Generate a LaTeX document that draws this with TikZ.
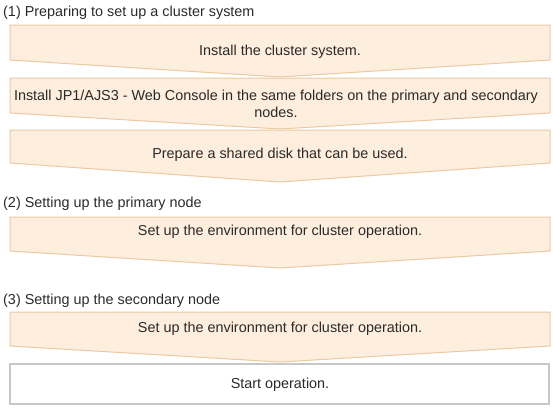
\documentclass[tikz,border=0pt]{standalone}
\usepackage{fontspec}
\setmainfont{Liberation Sans}
\definecolor{boxfill}{HTML}{FEEEDD}
\definecolor{boxline}{HTML}{EBC9A3}
\definecolor{endline}{HTML}{C8C8C8}
\definecolor{txt}{HTML}{2A2A2A}
\begin{document}
\begin{tikzpicture}[x=1pt,y=-1pt,
  every node/.style={text=txt,font=\fontsize{14.4}{17}\selectfont,inner sep=0pt},
  stepshape/.style={fill=boxfill,draw=boxline,line width=1pt,line join=miter},
  endshape/.style={fill=white,draw=endline,line width=1.5pt},
  sectlabel/.style={anchor=west}]
\useasboundingbox (0,0) rectangle (553,408);
% section labels
\node[sectlabel] (l1) at (3,13) {(1) Preparing to set up a cluster system};
\node[sectlabel] (l2) at (3,204) {(2) Setting up the primary node};
\node[sectlabel] (l3) at (3,301) {(3) Setting up the secondary node};
% step shapes
\draw[stepshape] (10,25) -- (550,25) -- (550,60) -- (280,77) -- (10,60) -- cycle;
\draw[stepshape] (10,78) -- (550,78) -- (550,113) -- (280,129) -- (10,113) -- cycle;
\draw[stepshape] (10,130) -- (550,130) -- (550,163) -- (280,182) -- (10,163) -- cycle;
\draw[stepshape] (10,217) -- (550,217) -- (550,251) -- (280,268) -- (10,251) -- cycle;
\draw[stepshape] (10,312) -- (550,312) -- (550,346) -- (280,362) -- (10,346) -- cycle;
\draw[endshape] (10,364) rectangle (549,404);
% texts
\node (s1) at (280,52) {Install the cluster system.};
\node[align=center] (s2) at (276,103.5) {Install JP1/AJS3 - Web Console in the same folders on the primary and secondary\\nodes.};
\node (s3) at (280,155) {Prepare a shared disk that can be used.};
\node (s4) at (280,232) {Set up the environment for cluster operation.};
\node (s5) at (280,329) {Set up the environment for cluster operation.};
\node (s6) at (280,385) {Start operation.};
\end{tikzpicture}
\end{document}
